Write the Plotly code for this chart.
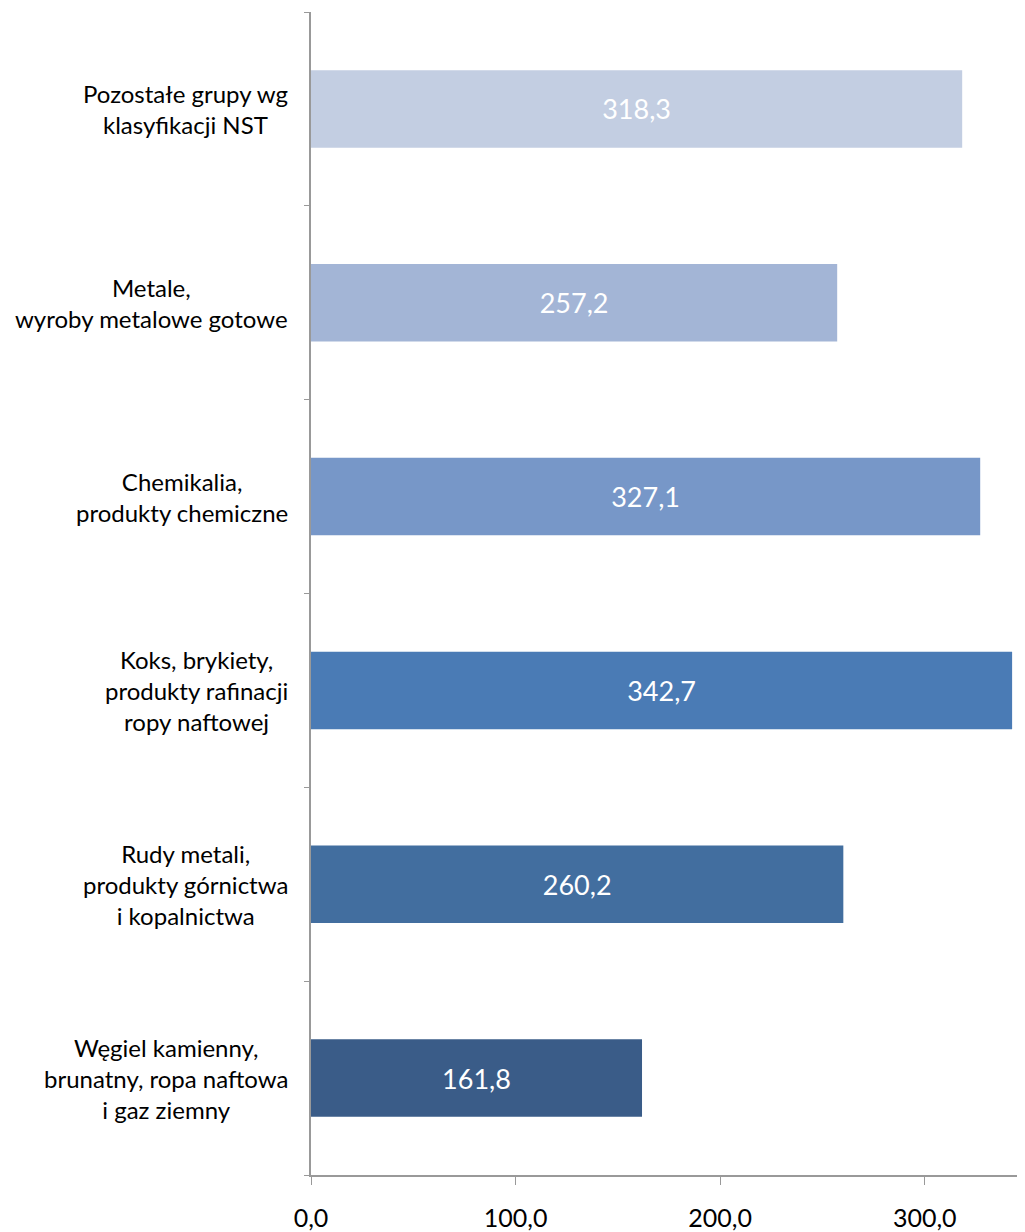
import plotly.graph_objects as go

# kategorie od dołu do góry
categories = [
    "Węgiel kamienny,<br>brunatny, ropa naftowa<br>i gaz ziemny",
    "Rudy metali,<br>produkty górnictwa<br>i kopalnictwa",
    "Koks, brykiety,<br>produkty rafinacji<br>ropy naftowej",
    "Chemikalia,<br>produkty chemiczne",
    "Metale,<br>wyroby metalowe gotowe",
    "Pozostałe grupy wg<br>klasyfikacji NST",
]
values = [161.8, 260.2, 342.7, 327.1, 257.2, 318.3]
bar_colors = ["#3A5C88", "#426E9F", "#4A7BB5", "#7797C8", "#A3B5D6", "#C3CEE2"]
x_ticks = [0, 100, 200, 300]
x_tick_labels = ["0,0", "100,0", "200,0", "300,0"]

label_font = "Lato, sans-serif"

fig = go.Figure()

fig.add_trace(
    go.Bar(
        x=values,
        y=categories,
        orientation="h",
        marker=dict(color=bar_colors, line=dict(width=0)),
        text=[f"{v:.1f}".replace(".", ",") for v in values],
        textposition="inside",
        insidetextanchor="middle",
        textangle=0,
        textfont=dict(family=label_font, size=27, color="white"),
        hoverinfo="skip",
    )
)

# etykiety kategorii wyśrodkowane jak w oryginale
for cat in categories:
    fig.add_annotation(
        x=0,
        xref="paper",
        y=cat,
        yref="y",
        text=cat,
        showarrow=False,
        xanchor="right",
        yanchor="middle",
        align="center",
        xshift=-21,
        font=dict(family=label_font, size=24, color="#000000"),
    )

# strona ma 8px marginesu body, stąd mniejszy rozmiar figury
fig.update_layout(
    width=1017,
    height=1224,
    margin=dict(l=303, r=0, t=4, b=57),
    paper_bgcolor="white",
    plot_bgcolor="white",
    bargap=0.6,
    showlegend=False,
)

fig.update_xaxes(
    range=[0, 349],
    tickmode="array",
    tickvals=x_ticks,
    ticktext=x_tick_labels,
    ticks="outside",
    ticklen=8,
    tickcolor="#999999",
    ticklabelstandoff=12,
    showline=True,
    linecolor="#999999",
    linewidth=2,
    showgrid=False,
    zeroline=False,
    tickfont=dict(family=label_font, size=25, color="#000000"),
)

fig.update_yaxes(
    type="category",
    showticklabels=False,
    ticks="outside",
    tickson="boundaries",
    ticklen=5,
    tickcolor="#999999",
    showline=True,
    linecolor="#999999",
    linewidth=2,
    showgrid=False,
    zeroline=False,
)

fig.write_html("out.html")
